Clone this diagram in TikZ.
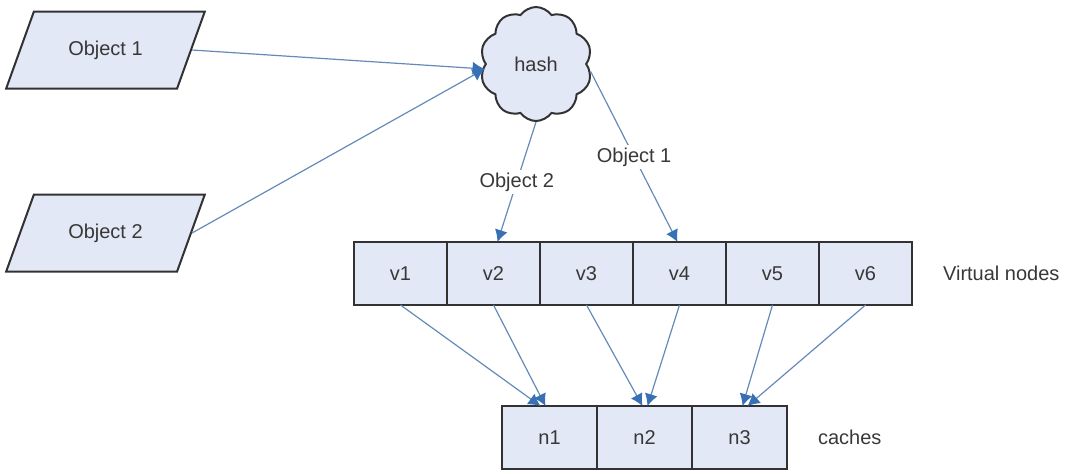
\documentclass[tikz,border=0pt]{standalone}
\usepackage{fontspec}
\setmainfont{Liberation Sans}
\usetikzlibrary{arrows.meta,positioning,shapes.geometric,shapes.symbols}
\definecolor{boxc}{RGB}{226,232,245}
\definecolor{linec}{RGB}{100,138,185}
\definecolor{tipc}{RGB}{55,112,180}
\definecolor{edgec}{RGB}{50,50,50}

\begin{document}
\begin{tikzpicture}[x=0.5pt,y=-0.5pt,font=\fontsize{10}{12}\selectfont,text=black!78,
  obj/.style={trapezium,trapezium left angle=62,trapezium right angle=118,
    trapezium stretches=true,minimum width=99.5pt,minimum height=38.5pt,
    draw=edgec,line width=1pt,fill=boxc},
  slot/.style={draw=edgec,line width=1pt,fill=boxc,minimum height=31.5pt,outer sep=0pt},
  vslot/.style={slot,minimum width=46.5pt},
  nslot/.style={slot,minimum width=47.5pt},
  link/.style={-{Latex[length=6pt,width=6.5pt,color=tipc]},draw=linec,line width=0.6pt},
  lbl/.style={fill=white,inner sep=1.5pt}]
  \useasboundingbox (0,0) rectangle (1075,473);
  % inputs and hash
  \node[obj] (o1) at (105.5,50) {Object 1};
  \node[obj] (o2) at (105.5,233) {Object 2};
  \node[cloud,cloud puffs=10,cloud puff arc=110,aspect=1,draw=edgec,line width=1pt,fill=boxc,
    minimum width=56pt,minimum height=57pt,inner sep=0pt] (hash) at (536,64) {hash};
  \coordinate (hashin) at ([yshift=-2.5pt]hash.west);
  % virtual nodes
  \node[vslot] (v1) at (400.5,273.5) {v1};
  \node[vslot,right=0pt of v1] (v2) {v2};
  \node[vslot,right=0pt of v2] (v3) {v3};
  \node[vslot,right=0pt of v3] (v4) {v4};
  \node[vslot,right=0pt of v4] (v5) {v5};
  \node[vslot,right=0pt of v5] (v6) {v6};
  \node[right=12pt of v6] (vtag) {Virtual nodes};
  % caches
  \node[nslot] (n1) at (549.5,437.5) {n1};
  \node[nslot,right=0pt of n1] (n2) {n2};
  \node[nslot,right=0pt of n2] (n3) {n3};
  \node[right=12pt of n3] (ctag) {caches};
  % arrows
  \draw[link] (o1.east) -- (hashin);
  \draw[link] (o2.east) -- (hashin);
  \draw[link] (hash.south) -- node[lbl]{Object 2} ([xshift=2pt]v2.north);
  \draw[link] (hash.-8) -- node[lbl]{Object 1} ([xshift=-1pt]v4.north);
  \draw[link] (v1.south) -- ([xshift=-4.5pt]n1.north);
  \draw[link] (v2.south) -- ([xshift=-2pt]n1.north);
  \draw[link] (v3.south) -- ([xshift=-1pt]n2.north);
  \draw[link] (v4.south) -- ([xshift=1.5pt]n2.north);
  \draw[link] (v5.south) -- ([xshift=1.5pt]n3.north);
  \draw[link] (v6.south) -- ([xshift=4pt]n3.north);
\end{tikzpicture}
\end{document}
